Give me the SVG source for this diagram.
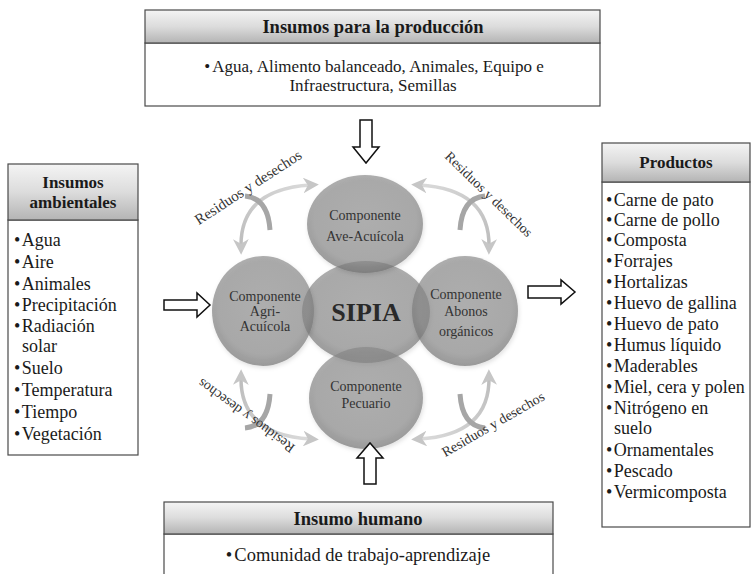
<svg xmlns="http://www.w3.org/2000/svg" width="752" height="574" viewBox="0 0 752 574">
<defs>
<linearGradient id="hdr" x1="0" y1="0" x2="0" y2="1">
<stop offset="0" stop-color="#f4f4f4"/>
<stop offset="0.5" stop-color="#dcdcdc"/>
<stop offset="1" stop-color="#b4b4b4"/>
</linearGradient>
<radialGradient id="ball" cx="0.5" cy="0.45" r="0.55">
<stop offset="0" stop-color="#8e8e8e"/>
<stop offset="0.8" stop-color="#868686"/>
<stop offset="1" stop-color="#707070"/>
</radialGradient>
<linearGradient id="arcg" x1="0" y1="1" x2="1" y2="0">
<stop offset="0" stop-color="#bdbdbd"/>
<stop offset="1" stop-color="#dadada"/>
</linearGradient>
<marker id="ah" viewBox="0 0 10 10" refX="5" refY="5" markerWidth="4.5" markerHeight="4.5" orient="auto-start-reverse" markerUnits="strokeWidth">
<path d="M0,0 L10,5 L0,10 L3,5 Z" fill="#c6c6c6"/>
</marker>
<filter id="sh" x="-20%" y="-20%" width="140%" height="140%">
<feDropShadow dx="1" dy="2" stdDeviation="2" flood-color="#000" flood-opacity="0.18"/>
</filter>
</defs>
<style>
.hd{fill:url(#hdr);stroke:#4a4a4a;stroke-width:1.2}
.bd{fill:#fff;stroke:#4a4a4a;stroke-width:1.2}
.ttl{font-family:"Liberation Serif",serif;font-weight:bold;font-size:17px;fill:#1a1a1a;text-anchor:middle}
.ttl2{font-family:"Liberation Serif",serif;font-weight:bold;font-size:18.5px;fill:#1a1a1a;text-anchor:middle}
.itm{font-family:"Liberation Serif",serif;font-size:18px;fill:#1a1a1a}
.itc{font-family:"Liberation Serif",serif;font-size:17px;fill:#1a1a1a;text-anchor:middle}
.itb{font-family:"Liberation Serif",serif;font-size:18.5px;fill:#1a1a1a;text-anchor:middle}
.bal{fill:url(#ball);fill-opacity:0.66}
.ct{font-family:"Liberation Serif",serif;font-size:14px;fill:#333;text-anchor:middle}
.sip{font-family:"Liberation Serif",serif;font-size:26px;font-weight:bold;fill:#2a2a2a;text-anchor:middle}
.blk{fill:#fff;stroke:#111;stroke-width:1.5;stroke-linejoin:miter}
.lt{fill:none;stroke:url(#arcg);stroke-width:3.5;marker-start:url(#ah);marker-end:url(#ah)}
.dk{fill:none;stroke:#a6a6a6;stroke-width:5;stroke-linecap:butt}
.res{font-family:"Liberation Serif",serif;font-size:14px;fill:#333;text-anchor:middle}
</style>

<g id="insumos-produccion">
<rect class="bd" x="145" y="43" width="455" height="63"/>
<rect class="hd" x="145" y="10" width="455" height="33"/>
<text class="ttl2" x="373" y="33">Insumos para la producción</text>
<text class="itc" x="374" y="72">•<tspan dx="2">Agua, Alimento balanceado, Animales, Equipo e</tspan></text>
<text class="itc" x="373" y="91">Infraestructura, Semillas</text>
</g>

<g id="insumos-ambientales">
<rect class="bd" x="8" y="220" width="130" height="235"/>
<rect class="hd" x="8" y="164" width="130" height="56"/>
<text class="ttl" x="73" y="188">Insumos</text>
<text class="ttl" x="73" y="208">ambientales</text>
<text class="itm" x="14" y="246">•<tspan dx="1.5">Agua</tspan></text>
<text class="itm" x="14" y="268">•<tspan dx="1.5">Aire</tspan></text>
<text class="itm" x="14" y="290">•<tspan dx="1.5">Animales</tspan></text>
<text class="itm" x="14" y="311">•<tspan dx="1.5">Precipitación</tspan></text>
<text class="itm" x="14" y="332">•<tspan dx="1.5">Radiación</tspan></text>
<text class="itm" x="22" y="352">solar</text>
<text class="itm" x="14" y="374">•<tspan dx="1.5">Suelo</tspan></text>
<text class="itm" x="14" y="396">•<tspan dx="1.5">Temperatura</tspan></text>
<text class="itm" x="14" y="418">•<tspan dx="1.5">Tiempo</tspan></text>
<text class="itm" x="14" y="440">•<tspan dx="1.5">Vegetación</tspan></text>
</g>

<g id="productos">
<rect class="bd" x="602" y="182" width="148" height="345"/>
<rect class="hd" x="602" y="143" width="148" height="39"/>
<text class="ttl" x="676" y="168">Productos</text>
<text class="itm" x="606" y="206">•<tspan dx="1.5">Carne de pato</tspan></text>
<text class="itm" x="606" y="226">•<tspan dx="1.5">Carne de pollo</tspan></text>
<text class="itm" x="606" y="246">•<tspan dx="1.5">Composta</tspan></text>
<text class="itm" x="606" y="267">•<tspan dx="1.5">Forrajes</tspan></text>
<text class="itm" x="606" y="288">•<tspan dx="1.5">Hortalizas</tspan></text>
<text class="itm" x="606" y="309">•<tspan dx="1.5">Huevo de gallina</tspan></text>
<text class="itm" x="606" y="330">•<tspan dx="1.5">Huevo de pato</tspan></text>
<text class="itm" x="606" y="351">•<tspan dx="1.5">Humus líquido</tspan></text>
<text class="itm" x="606" y="372">•<tspan dx="1.5">Maderables</tspan></text>
<text class="itm" x="606" y="393">•<tspan dx="1.5">Miel, cera y polen</tspan></text>
<text class="itm" x="606" y="414">•<tspan dx="1.5">Nitrógeno en</tspan></text>
<text class="itm" x="614" y="434">suelo</text>
<text class="itm" x="606" y="456">•<tspan dx="1.5">Ornamentales</tspan></text>
<text class="itm" x="606" y="477">•<tspan dx="1.5">Pescado</tspan></text>
<text class="itm" x="606" y="498">•<tspan dx="1.5">Vermicomposta</tspan></text>
</g>

<g id="insumo-humano">
<rect class="bd" x="164" y="534" width="389" height="50"/>
<rect class="hd" x="164" y="502" width="389" height="32"/>
<text class="ttl2" x="358" y="525">Insumo humano</text>
<text class="itb" x="358" y="561">•<tspan dx="2">Comunidad de trabajo-aprendizaje</tspan></text>
</g>

<g id="sipia" filter="url(#sh)">
<ellipse class="bal" cx="366" cy="312" rx="64" ry="51"/>
</g>
<g id="ave-acuicola" filter="url(#sh)">
<ellipse class="bal" cx="365" cy="224" rx="58" ry="49"/>
</g>
<g id="agri-acuicola" filter="url(#sh)">
<ellipse class="bal" cx="263" cy="311" rx="51" ry="55"/>
</g>
<g id="abonos-organicos" filter="url(#sh)">
<ellipse class="bal" cx="465" cy="311" rx="53" ry="55"/>
</g>
<g id="pecuario" filter="url(#sh)">
<ellipse class="bal" cx="366" cy="398" rx="57" ry="51"/>
</g>
<g id="labels">
<text class="sip" x="366" y="321">SIPIA</text>
<text class="ct" x="365" y="220">Componente</text>
<text class="ct" x="365" y="241">Ave-Acuícola</text>
<text class="ct" x="265" y="301">Componente</text>
<text class="ct" x="265" y="316">Agri-</text>
<text class="ct" x="265" y="331">Acuícola</text>
<text class="ct" x="466" y="299">Componente</text>
<text class="ct" x="466" y="316">Abonos</text>
<text class="ct" x="466" y="336">orgánicos</text>
<text class="ct" x="366" y="391">Componente</text>
<text class="ct" x="366" y="408">Pecuario</text>
</g>

<g id="connectors">
<path class="blk" d="M360,120 H372 V147 H379 L366,163 L353,147 H360 Z"/>
<path class="blk" d="M164,300 H197 V293 L210,305 L197,317 V310 H164 Z"/>
<path class="blk" d="M528,286 H561 V280 L575,292 L561,304 V298 H528 Z"/>
<path class="blk" d="M364,484 V458 H357 L370,443 L383,458 H376 V484 Z"/>
<g id="cyc-tl">
<path class="lt" d="M241,247 Q240,189 311,185"/>
<path class="dk" d="M245,196 Q268,198 270,230"/>
</g>
<g id="cyc-tr" transform="translate(730,0) scale(-1,1)">
<path class="lt" d="M241,247 Q240,189 311,185"/>
<path class="dk" d="M245,196 Q268,198 270,230"/>
</g>
<g id="cyc-bl" transform="translate(0,624) scale(1,-1)">
<path class="lt" d="M241,247 Q240,189 311,185"/>
<path class="dk" d="M245,196 Q268,198 270,230"/>
</g>
<g id="cyc-br" transform="translate(730,624) scale(-1,-1)">
<path class="lt" d="M241,247 Q240,189 311,185"/>
<path class="dk" d="M245,196 Q268,198 270,230"/>
</g>
<text class="res" style="font-size:15px" transform="translate(248,187) rotate(-33)" dy="0.35em">Residuos y desechos</text>
<text class="res" transform="translate(489,194) rotate(44)" dy="0.35em">Residuos y desechos</text>
<text class="res" transform="translate(246,416) rotate(216)" dy="0.35em">Residuos y desechos</text>
<text class="res" transform="translate(493,424) rotate(-30)" dy="0.35em">Residuos y desechos</text>
</g>
</svg>
